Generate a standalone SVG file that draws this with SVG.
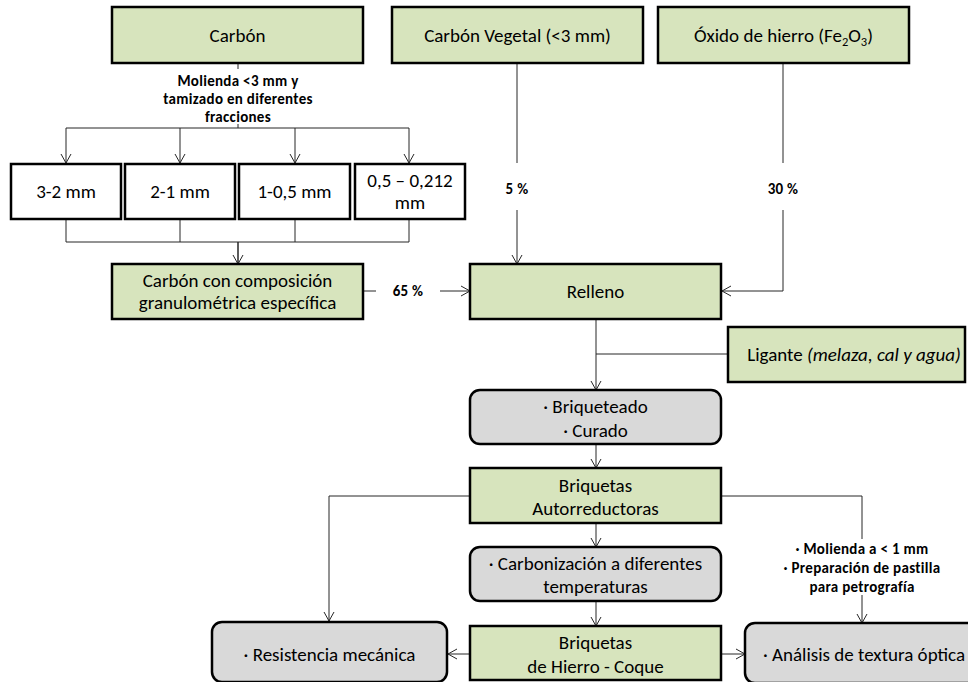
<svg xmlns="http://www.w3.org/2000/svg" width="968" height="682" viewBox="0 0 968 682">
  <defs>
    <marker id="arr" markerUnits="userSpaceOnUse" markerWidth="14" markerHeight="14" viewBox="-11 -7 14 14" refX="0" refY="0" orient="auto" overflow="visible">
      <path d="M-9,-5 L0,0 L-9,5" fill="none" stroke="#262626" stroke-width="1"/>
    </marker>
    <style>
      .g { fill: #D7E4BD; stroke: #000; stroke-width: 2.5; }
      .p { fill: #D9D9D9; stroke: #000; stroke-width: 2.5; }
      .w { fill: #FFFFFF; stroke: #000; stroke-width: 2.5; }
      text { font-family: Carlito, Lato, "Liberation Sans", sans-serif; font-size: 19px; fill: #000; text-anchor: middle; }
      .b { font-weight: bold; font-size: 15px; letter-spacing: 0.3px; }
      .c line, .c polyline { stroke: #262626; stroke-width: 1; fill: none; }
      .c .a { marker-end: url(#arr); }
    </style>
  </defs>
  <rect width="968" height="682" fill="#FFFFFF"/>

  <!-- connectors -->
  <g id="connectors" class="c">
    <line x1="238" y1="63" x2="238" y2="69"/>
    <line x1="238" y1="124" x2="238" y2="128"/>
    <line x1="66" y1="128" x2="409" y2="128"/>
    <line class="a" x1="66" y1="128" x2="66" y2="163"/>
    <line class="a" x1="180" y1="128" x2="180" y2="163"/>
    <line class="a" x1="295" y1="128" x2="295" y2="163"/>
    <line class="a" x1="409" y1="128" x2="409" y2="163"/>
    <line x1="66" y1="219" x2="66" y2="242"/>
    <line x1="180" y1="219" x2="180" y2="242"/>
    <line x1="295" y1="219" x2="295" y2="242"/>
    <line x1="409" y1="219" x2="409" y2="242"/>
    <line x1="66" y1="242" x2="409" y2="242"/>
    <line class="a" x1="238" y1="242" x2="238" y2="264" style="stroke-width:1.5"/>
    <line x1="363" y1="291" x2="376" y2="291"/>
    <line class="a" x1="440" y1="291" x2="470" y2="291"/>
    <line x1="517" y1="63" x2="517" y2="163"/>
    <line class="a" x1="517" y1="210" x2="517" y2="264"/>
    <line x1="783" y1="63" x2="783" y2="163"/>
    <polyline class="a" points="783,210 783,291 722,291"/>
    <line class="a" x1="596" y1="319" x2="596" y2="390"/>
    <line x1="728" y1="354" x2="596" y2="354"/>
    <line class="a" x1="596" y1="444" x2="596" y2="468"/>
    <line class="a" x1="596" y1="523" x2="596" y2="547"/>
    <line class="a" x1="596" y1="601" x2="596" y2="626"/>
    <polyline class="a" points="470,496 329,496 329,621"/>
    <line x1="721" y1="496" x2="862" y2="496"/>
    <line x1="862" y1="496" x2="862" y2="539"/>
    <line class="a" x1="862" y1="595" x2="862" y2="623"/>
    <line class="a" x1="470" y1="654" x2="448" y2="654"/>
    <line class="a" x1="721" y1="654" x2="745" y2="654"/>
  </g>

  <!-- connector labels -->
  <g id="labels">
    <text class="b" x="238" y="86">Molienda &lt;3 mm y</text>
    <text class="b" x="238" y="104">tamizado en diferentes</text>
    <text class="b" x="238" y="122">fracciones</text>
    <text class="b" x="408" y="296">65 %</text>
    <text class="b" x="517" y="194">5 %</text>
    <text class="b" x="783" y="194">30 %</text>
    <text class="b" x="862" y="554">· Molienda a &lt; 1 mm</text>
    <text class="b" x="862" y="573">· Preparación de pastilla</text>
    <text class="b" x="862" y="592">para petrografía</text>
  </g>

  <g id="carbon">
    <rect class="g" x="112" y="7" width="251" height="56"/>
    <text x="237.5" y="42">Carbón</text>
  </g>
  <g id="carbon-vegetal">
    <rect class="g" x="392" y="7" width="251" height="56"/>
    <text x="517.5" y="42">Carbón Vegetal (&lt;3 mm)</text>
  </g>
  <g id="oxido">
    <rect class="g" x="658" y="7" width="251" height="56"/>
    <text x="783.5" y="42">Óxido de hierro (Fe<tspan font-size="12.5" dy="4">2</tspan><tspan dy="-4">O</tspan><tspan font-size="12.5" dy="4">3</tspan><tspan dy="-4">)</tspan></text>
  </g>

  <g id="f1">
    <rect class="w" x="11" y="164" width="110" height="55"/>
    <text x="66" y="198">3-2 mm</text>
  </g>
  <g id="f2">
    <rect class="w" x="125" y="164" width="110" height="55"/>
    <text x="180" y="198">2-1 mm</text>
  </g>
  <g id="f3">
    <rect class="w" x="239" y="164" width="111" height="55"/>
    <text x="294.5" y="198">1-0,5 mm</text>
  </g>
  <g id="f4">
    <rect class="w" x="355" y="164" width="110" height="55"/>
    <text x="410" y="187">0,5 – 0,212</text>
    <text x="410" y="209">mm</text>
  </g>

  <g id="carbon-mezcla">
    <rect class="g" x="112" y="264" width="251" height="55"/>
    <text x="237.5" y="287">Carbón con composición</text>
    <text x="237.5" y="309">granulométrica específica</text>
  </g>
  <g id="relleno">
    <rect class="g" x="470" y="264" width="251" height="55"/>
    <text x="595.5" y="298">Relleno</text>
  </g>
  <g id="ligante">
    <rect class="g" x="728" y="327" width="237" height="55"/>
    <text x="854" y="361">Ligante <tspan font-style="italic">(melaza, cal y agua)</tspan></text>
  </g>
  <g id="briqueteado">
    <rect class="p" x="470" y="390" width="251" height="54" rx="10"/>
    <text x="595.5" y="413">· Briqueteado</text>
    <text x="595.5" y="437">· Curado</text>
  </g>
  <g id="briquetas-auto">
    <rect class="g" x="470" y="468" width="251" height="55"/>
    <text x="595.5" y="492">Briquetas</text>
    <text x="595.5" y="515">Autorreductoras</text>
  </g>
  <g id="carbonizacion">
    <rect class="p" x="470" y="547" width="251" height="54" rx="10"/>
    <text x="595.5" y="570">· Carbonización a diferentes</text>
    <text x="595.5" y="593">temperaturas</text>
  </g>
  <g id="briquetas-coque">
    <rect class="g" x="470" y="626" width="251" height="54"/>
    <text x="595.5" y="649">Briquetas</text>
    <text x="595.5" y="673">de Hierro - Coque</text>
  </g>
  <g id="resistencia">
    <rect class="p" x="212" y="622" width="235" height="60" rx="10"/>
    <text x="329.5" y="661">· Resistencia mecánica</text>
  </g>
  <g id="analisis">
    <rect class="p" x="745" y="623" width="235" height="60" rx="10"/>
    <text x="864" y="661">· Análisis de textura óptica</text>
  </g>
</svg>
